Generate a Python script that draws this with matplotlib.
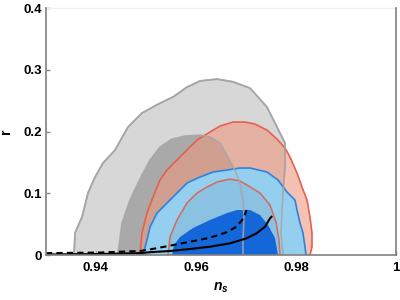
import matplotlib
matplotlib.use("Agg")
import matplotlib.pyplot as plt

plt.rcParams['font.family'] = ['Liberation Sans', 'DejaVu Sans']
plt.rcParams['mathtext.fontset'] = 'custom'
plt.rcParams['mathtext.it'] = 'Liberation Sans:italic:bold'
plt.rcParams['mathtext.rm'] = 'Liberation Sans:bold'

# ---- data (ns, r) ----
gray_outer_ns = [0.9356, 0.9358, 0.9372, 0.9384, 0.9398, 0.9414, 0.9438, 0.9464, 0.9492,
                 0.9528, 0.9554, 0.9582, 0.9608, 0.9642, 0.9674, 0.9708, 0.9742, 0.9762,
                 0.9778, 0.9778, 0.9774, 0.9772, 0.9770, 0.9774]
gray_outer_r = [0.0, 0.0356, 0.0615, 0.1004, 0.1263, 0.149, 0.170, 0.2073, 0.230,
                0.246, 0.256, 0.272, 0.282, 0.285, 0.2806, 0.2704, 0.2397, 0.2073,
                0.1814, 0.1425, 0.1004, 0.0729, 0.0356, 0.0]

gray_inner_ns = [0.9444, 0.9444, 0.9452, 0.9468, 0.9484, 0.9494, 0.9508, 0.9528, 0.9552,
                 0.9578, 0.9608, 0.9628, 0.9648, 0.9664, 0.9678, 0.9688, 0.9694, 0.9696,
                 0.9694, 0.9694]
gray_inner_r = [0.0, 0.003, 0.0518, 0.0891, 0.1166, 0.1328, 0.1538, 0.1749, 0.1878,
                0.1927, 0.1943, 0.1911, 0.1814, 0.1587, 0.1376, 0.1166, 0.0891, 0.0615,
                0.0243, 0.0]

red_outer_ns = [0.9488, 0.9488, 0.9492, 0.9502, 0.9514, 0.9528, 0.9542, 0.9562, 0.9582,
                0.9602, 0.9628, 0.9648, 0.9674, 0.9698, 0.9718, 0.9742, 0.9762, 0.9778,
                0.9788, 0.9802, 0.9812, 0.9822, 0.9828, 0.9832, 0.9832, 0.9828]
red_outer_r = [0.0, 0.003, 0.0356, 0.068, 0.0939, 0.1215, 0.1376, 0.1538, 0.170,
               0.1862, 0.1992, 0.2089, 0.2154, 0.2154, 0.2121, 0.2024, 0.1878, 0.1733,
               0.1587, 0.1328, 0.1101, 0.0891, 0.0615, 0.0356, 0.013, 0.0]

red_inner_ns = [0.9544, 0.9548, 0.9562, 0.9582, 0.9602, 0.9622, 0.9642, 0.9668, 0.9688,
                0.9702, 0.9728, 0.9748, 0.9760, 0.9766, 0.9768]
red_inner_r = [0.0, 0.0291, 0.0567, 0.0842, 0.1004, 0.1101, 0.1182, 0.1231, 0.1198,
               0.1134, 0.1004, 0.081, 0.0534, 0.0243, 0.0]

blue_outer_ns = [0.9494, 0.9502, 0.9508, 0.9522, 0.9542, 0.9562, 0.9582, 0.9608, 0.9634,
                 0.9662, 0.9688, 0.9708, 0.9742, 0.9764, 0.9782, 0.9798, 0.9802, 0.9808,
                 0.9814, 0.9818, 0.9820]
blue_outer_r = [0.0, 0.0243, 0.0453, 0.068, 0.0842, 0.1004, 0.1166, 0.1263, 0.1344,
                0.1376, 0.1409, 0.1409, 0.1344, 0.1215, 0.102, 0.0891, 0.0729, 0.0518,
                0.0356, 0.013, 0.0]

blue_inner_ns = [0.9552, 0.9556, 0.9568, 0.9594, 0.9628, 0.9662, 0.9682, 0.9708, 0.9728,
                 0.9744, 0.9758, 0.9764]
blue_inner_r = [0.0, 0.0162, 0.0291, 0.0437, 0.0567, 0.068, 0.0729, 0.0729, 0.0648,
                0.0486, 0.0275, 0.0]

solid_ns = [0.9300, 0.9408, 0.9488, 0.9508, 0.9548, 0.9588, 0.9628, 0.9668, 0.9701,
            0.9721, 0.9738, 0.9748, 0.9751]
solid_r = [0.0008, 0.0016, 0.003, 0.0045, 0.0065, 0.0097, 0.0134, 0.0189, 0.027,
           0.0351, 0.0458, 0.0594, 0.062]

dashed_ns = [0.9300, 0.9408, 0.9488, 0.9508, 0.9548, 0.9588, 0.9628, 0.9661, 0.9681,
             0.9695, 0.9701]
dashed_r = [0.003, 0.004, 0.0065, 0.009, 0.0151, 0.0215, 0.028, 0.0368, 0.0458,
            0.0594, 0.0729]

x_ticks = [0.94, 0.96, 0.98, 1.0]
x_ticklabels = ['0.94', '0.96', '0.98', '1']
y_ticks = [0.0, 0.1, 0.2, 0.3, 0.4]
y_ticklabels = ['0', '0.1', '0.2', '0.3', '0.4']

fig = plt.figure(figsize=(4, 3), dpi=100)
ax = fig.add_axes([0.115, 0.15, 0.875, 0.823])

gray_edge = '#a6a6a6'
ax.fill(gray_outer_ns, gray_outer_r, color='#d7d7d7', lw=0, zorder=1)
ax.plot(gray_outer_ns, gray_outer_r, color=gray_edge, lw=1.2, zorder=1.5)
ax.fill(gray_inner_ns, gray_inner_r, color='#a9a9a9', lw=0, zorder=2)

ax.fill(red_outer_ns, red_outer_r, color='#ed997f', alpha=0.6, lw=0, zorder=3)
ax.plot(red_outer_ns, red_outer_r, color='#e5604e', lw=1.2, zorder=3.5)

ax.fill(blue_outer_ns, blue_outer_r, color='#94cfef', lw=0, zorder=4)
ax.plot(blue_outer_ns, blue_outer_r, color='#2f80e2', lw=1.2, zorder=4.5)

ax.fill(red_inner_ns, red_inner_r, color='#5a6a80', alpha=0.12, lw=0, zorder=5)
ax.fill(blue_inner_ns, blue_inner_r, color='#1467d8', lw=0, zorder=6)
ax.plot(red_inner_ns, red_inner_r, color='#d8685a', lw=1.1, zorder=7)

ax.plot(gray_outer_ns, gray_outer_r, color=gray_edge, lw=1.2, alpha=0.85, zorder=8)
ax.plot(gray_inner_ns, gray_inner_r, color=gray_edge, lw=1.2, alpha=0.85, zorder=8)

ax.plot(solid_ns, solid_r, color='black', lw=1.5, zorder=9)
ax.plot(dashed_ns, dashed_r, color='black', lw=1.5, ls=(0, (3, 2)), zorder=9)

ax.set_xlim(0.93, 1.0)
ax.set_ylim(0.0, 0.4)
ax.set_xticks(x_ticks)
ax.set_xticklabels(x_ticklabels)
ax.set_yticks(y_ticks)
ax.set_yticklabels(y_ticklabels)
ax.tick_params(direction='in', length=3, width=1, color='#888888',
               labelsize=9.5, pad=5)
ax.tick_params(axis='y', pad=3)
for lab in ax.get_xticklabels() + ax.get_yticklabels():
    lab.set_fontweight('bold')

for side in ['left', 'bottom', 'right']:
    ax.spines[side].set_color('#808080')
    ax.spines[side].set_linewidth(1.2)
    ax.spines[side].set_zorder(10)
ax.spines['top'].set_color('#eef0f6')
ax.spines['top'].set_linewidth(1.0)

ax.set_xlabel('$n_s$', fontsize=10, labelpad=5)
ax.set_ylabel('r', fontsize=10, fontweight='bold', labelpad=7)

fig.savefig('out.png', dpi=100)
